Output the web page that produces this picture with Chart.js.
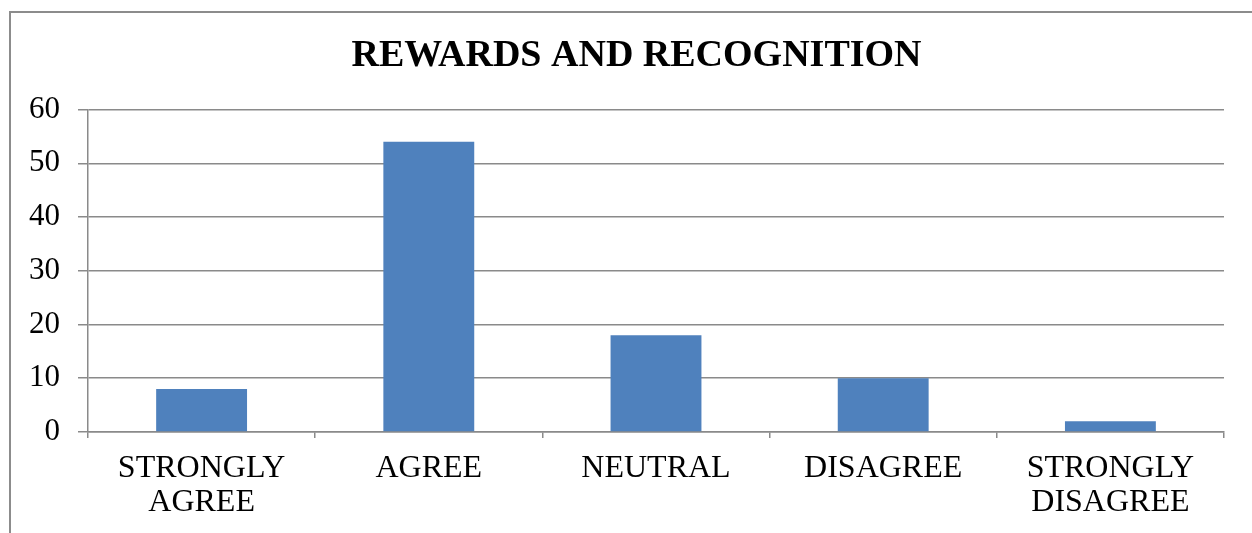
<!DOCTYPE html>
<html lang="en">
<head>
  <meta charset="UTF-8">
  <title>Rewards and Recognition</title>
  <script src="https://cdn.jsdelivr.net/npm/chart.js"></script>
  <style>
    html, body { margin: 0; padding: 0; background: #fff; overflow: hidden; }
    #frame { position: absolute; left: 9px; top: 11px; width: 1400px; height: 700px; border-left: 2px solid #8c8c8c; border-top: 2px solid #8c8c8c; }
    #wrap { position: absolute; left: 0; top: 0; width: 1252px; height: 533px; }
  </style>
</head>
<body>
  <div id="frame"></div>
  <div id="wrap"><canvas id="rrChart" width="1252" height="533"></canvas></div>

  <script>
    // chart data
    const categories = [['STRONGLY', 'AGREE'], 'AGREE', 'NEUTRAL', 'DISAGREE', ['STRONGLY', 'DISAGREE']];
    const responses = [8, 54, 18, 10, 2];
    const yTicks = [0, 10, 20, 30, 40, 50, 60];

    const gridGrey = '#8a8a8a';
    const serif = '"Liberation Serif", "Times New Roman", serif';

    // the original title sits a little right of the canvas centre
    const nudgeTitle = {
      id: 'nudgeTitle',
      afterLayout(chart) {
        if (chart.titleBlock) chart.titleBlock.left += 38;
      }
    };

    new Chart(document.getElementById('rrChart'), {
      type: 'bar',
      data: {
        labels: categories,
        datasets: [{
          data: responses,
          backgroundColor: '#4f81bd',
          barPercentage: 0.4,
          categoryPercentage: 1
        }]
      },
      options: {
        responsive: false,
        animation: false,
        layout: { padding: { left: 11, right: 28, top: 0, bottom: 0 } },
        plugins: {
          legend: { display: false },
          tooltip: { enabled: false },
          title: {
            display: true,
            text: 'REWARDS AND RECOGNITION',
            color: '#000',
            font: { family: serif, size: 38, weight: 'bold' },
            padding: { top: 33, bottom: 31 }
          }
        },
        scales: {
          x: {
            grid: { offset: true, drawOnChartArea: false, tickLength: 6, color: gridGrey, lineWidth: 1.5 },
            border: { color: gridGrey, width: 1.5 },
            ticks: { color: '#000', padding: 13, maxRotation: 0, font: { family: serif, size: 32, lineHeight: 1.08 } }
          },
          y: {
            min: 0,
            max: 60,
            afterBuildTicks: axis => { axis.ticks = yTicks.map(v => ({ value: v })); },
            grid: { tickLength: 10, color: gridGrey, lineWidth: 1.5 },
            border: { color: gridGrey, width: 1.5 },
            ticks: { color: '#000', padding: 18, font: { family: serif, size: 31 } }
          }
        }
      },
      plugins: [nudgeTitle]
    });
  </script>
</body>
</html>
